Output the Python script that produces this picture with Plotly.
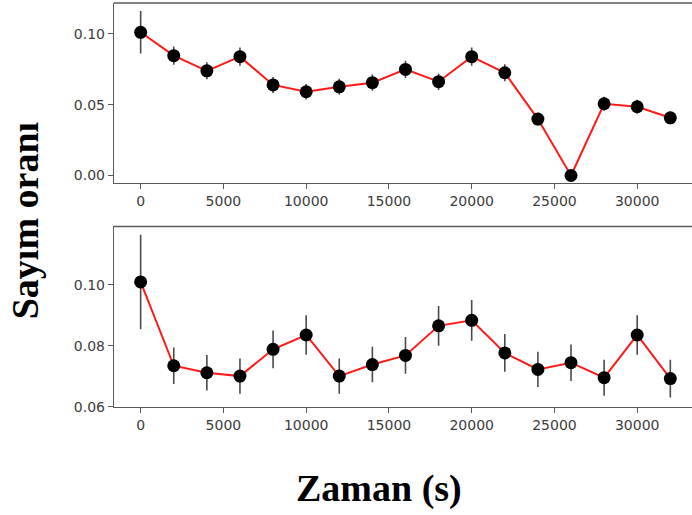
import plotly.graph_objects as go

# Time bins (s)
zaman = [0, 2000, 4000, 6000, 8000, 10000, 12000, 14000, 16000,
         18000, 20000, 22000, 24000, 26000, 28000, 30000, 32000]

# Upper panel: count rate and its uncertainty
oran_ust = [0.1012, 0.0847, 0.0740, 0.0840, 0.0640, 0.0592, 0.0627, 0.0656, 0.0750,
            0.0663, 0.0840, 0.0726, 0.0399, 0.0000, 0.0507, 0.0486, 0.0408]
hata_ust = [0.0150, 0.0065, 0.0060, 0.0065, 0.0057, 0.0054, 0.0056, 0.0057, 0.0061,
            0.0058, 0.0065, 0.0060, 0.0045, 0.0000, 0.0050, 0.0049, 0.0045]

# Lower panel: count rate and its uncertainty
oran_alt = [0.1009, 0.0734, 0.0711, 0.0700, 0.0788, 0.0835, 0.0700, 0.0738, 0.0768,
            0.0865, 0.0883, 0.0776, 0.0722, 0.0744, 0.0695, 0.0835, 0.0692]
hata_alt = [0.0155, 0.0060, 0.0058, 0.0058, 0.0062, 0.0065, 0.0058, 0.0058, 0.0060,
            0.0065, 0.0067, 0.0062, 0.0058, 0.0060, 0.0059, 0.0065, 0.0062]

x_ticks = [0, 5000, 10000, 15000, 20000, 25000, 30000]
x_ticktext = ["0", "5000", "10000", "15000", "20000", "25000", "30000"]
y_ticks_ust = [0.00, 0.05, 0.10]
y_ticks_alt = [0.06, 0.08, 0.10]

W, H = 692, 515
HY = 507.5  # vertical extent used for placing panels and titles
AX_COLOR = "#5a5a5a"
TICK_FONT = dict(family="DejaVu Sans", size=14, color="#3c3c3c")


def fy(p):
    """Paper y fraction for a pixel row measured from the top."""
    return 1 - p / HY


def seri(x, y, e, xa, ya):
    return go.Scatter(
        x=x, y=y, xaxis=xa, yaxis=ya, mode="lines+markers",
        line=dict(color="#ff1a1a", width=2),
        marker=dict(color="black", size=13),
        error_y=dict(type="data", array=e, visible=True,
                     color="#4a4a4a", thickness=1.6, width=0),
        showlegend=False, hoverinfo="skip",
    )


fig = go.Figure()
fig.add_trace(seri(zaman, oran_ust, hata_ust, "x", "y"))
fig.add_trace(seri(zaman, oran_alt, hata_alt, "x2", "y2"))

x_dom = [114 / W, 1.0]
xcommon = dict(
    domain=x_dom, range=[-1610, 33310], tickvals=x_ticks, ticktext=x_ticktext,
    showline=True, linecolor=AX_COLOR, linewidth=1.4,
    ticks="outside", ticklen=5, tickwidth=1.2, tickcolor=AX_COLOR,
    tickfont=TICK_FONT, showgrid=False, zeroline=False,
)
ycommon = dict(
    showline=True, linecolor=AX_COLOR, linewidth=1.4,
    ticks="outside", ticklen=5, tickwidth=1.2, tickcolor=AX_COLOR,
    tickfont=TICK_FONT, showgrid=False, zeroline=False, tickformat=".2f",
)

fig.update_layout(
    width=W, height=H,
    margin=dict(l=0, r=0, t=0, b=0),
    paper_bgcolor="white", plot_bgcolor="white",
    xaxis=dict(anchor="y", **xcommon),
    yaxis=dict(anchor="x", domain=[fy(183), fy(3)],
               range=[-0.00515, 0.1219], tickvals=y_ticks_ust, **ycommon),
    xaxis2=dict(anchor="y2", **xcommon),
    yaxis2=dict(anchor="x2", domain=[fy(407), fy(226.7)],
                range=[0.06, 0.1191], tickvals=y_ticks_alt, **ycommon),
)

# Upper frame edge of each panel
for xr, yr in (("x domain", "y domain"), ("x2 domain", "y2 domain")):
    fig.add_shape(type="line", xref=xr, yref=yr, x0=0, x1=1, y0=1, y1=1,
                  line=dict(color=AX_COLOR, width=1.4))

TITLE_FONT = dict(family="Liberation Serif", size=38, color="black")
fig.add_annotation(text="<b>Zaman (s)</b>", xref="paper", yref="paper",
                   x=379 / W, y=fy(489), xanchor="center", yanchor="middle",
                   showarrow=False, font=TITLE_FONT)
fig.add_annotation(text="<b>Sayım oranı</b>", xref="paper", yref="paper",
                   x=24.5 / W, y=fy(221), xanchor="center", yanchor="middle",
                   textangle=-90, showarrow=False, font=TITLE_FONT)

fig.write_html("out.html")
